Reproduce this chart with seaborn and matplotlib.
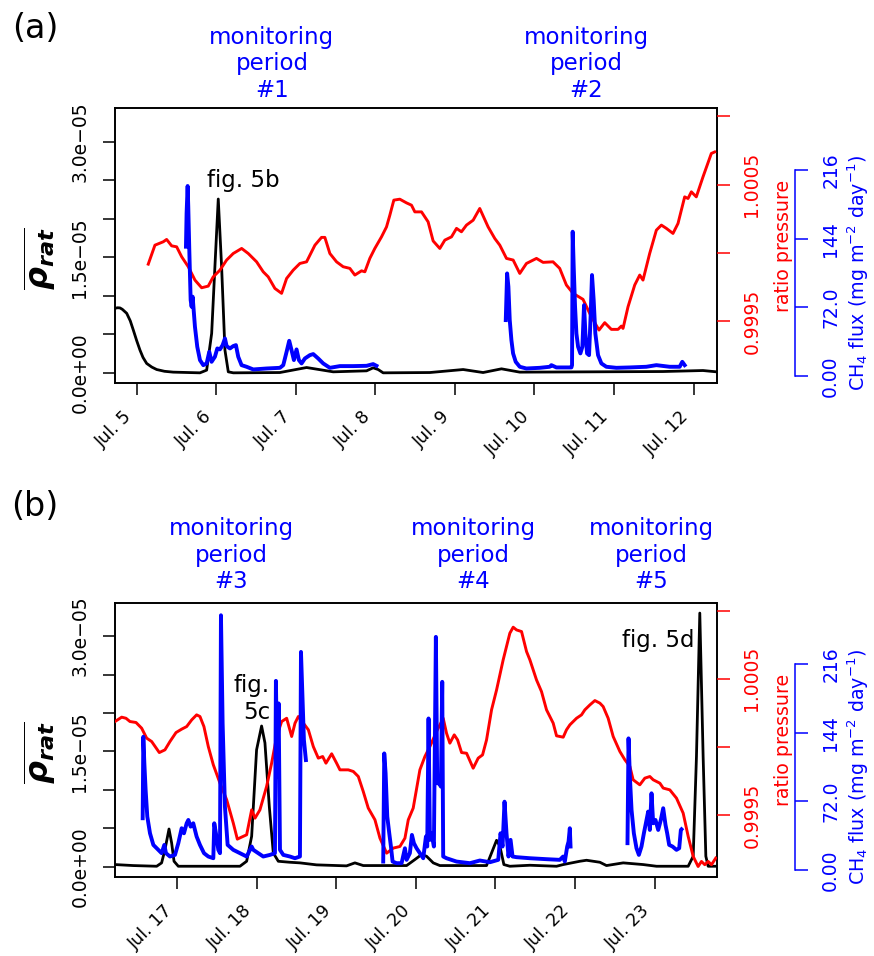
import numpy as np
import pandas as pd
import matplotlib
matplotlib.use("Agg")
import matplotlib.pyplot as plt
import matplotlib.transforms as mtransforms
import seaborn as sns

plt.rcParams["font.family"] = ["DejaVu Sans"]
plt.rcParams["mathtext.fontset"] = "dejavusans"

# ---------------------------------------------------------------- panel (a)
# time axis is "day of July"
a_rho_day = [4.728, 4.760, 4.790, 4.820, 4.875, 4.920, 4.958, 5.000, 5.042, 5.080,
             5.126, 5.190, 5.252, 5.350, 5.460, 5.796, 5.880, 5.943, 5.984, 6.026,
             6.068, 6.110, 6.152, 6.215, 6.801, 7.136, 7.471, 7.890, 7.973, 8.036,
             8.099, 8.686, 9.104, 9.355, 9.586, 9.816, 11.616, 12.119, 12.289]
# rho_rat in units of 1e-5
a_rho_val = [0.838, 0.845, 0.843, 0.825, 0.773, 0.675, 0.556, 0.420, 0.295, 0.200,
             0.122, 0.075, 0.043, 0.020, 0.009, 0.0, 0.035, 0.512, 1.38, 2.257,
             1.38, 0.295, 0.013, 0.0, 0.004, 0.069, 0.013, 0.026, 0.065, 0.043,
             0.0, 0.004, 0.043, 0.004, 0.052, 0.009, 0.017, 0.030, 0.013]

a_ratio_day = [5.146, 5.230, 5.335, 5.377, 5.440, 5.503, 5.566, 5.649, 5.733, 5.817,
               5.900, 5.963, 6.047, 6.131, 6.214, 6.320, 6.403, 6.508, 6.591, 6.654,
               6.738, 6.822, 6.885, 6.968, 7.052, 7.136, 7.241, 7.324, 7.366, 7.429,
               7.513, 7.596, 7.680, 7.743, 7.827, 7.869, 7.931, 7.994, 8.078, 8.141,
               8.183, 8.233, 8.308, 8.392, 8.455, 8.497, 8.581, 8.664, 8.727, 8.811,
               8.874, 8.958, 9.021, 9.083, 9.146, 9.230, 9.313, 9.418, 9.502, 9.565,
               9.649, 9.733, 9.816, 9.900, 10.026, 10.109, 10.234, 10.318, 10.402, 10.486,
               10.611, 10.716, 10.812, 10.884, 10.967, 11.051, 11.093, 11.114, 11.177, 11.261,
               11.324, 11.365, 11.449, 11.533, 11.596, 11.659, 11.742, 11.805, 11.889, 11.931,
               11.973, 12.035, 12.119, 12.224, 12.266]
a_ratio_val = [0.999917, 1.000056, 1.000081, 1.000098, 1.000051, 1.000044, 0.999971, 0.999898, 0.999800, 0.999744,
               0.999756, 0.999824, 0.999873, 0.999947, 0.999995, 1.000032, 0.999995, 0.999934, 0.999861, 0.999824,
               0.999739, 0.999703, 0.999812, 0.999873, 0.999922, 0.999934, 1.000056, 1.000113, 1.000113, 0.999995,
               0.999934, 0.999898, 0.999886, 0.999837, 0.999868, 0.999861, 0.999959, 1.000032, 1.000117, 1.000190,
               1.000276, 1.000386, 1.000393, 1.000366, 1.000349, 1.000300, 1.000300, 1.000227, 1.000087, 1.000032,
               1.000093, 1.000117, 1.000179, 1.000154, 1.000203, 1.000239, 1.000325, 1.000190, 1.000105, 1.000056,
               0.999959, 0.999947, 0.999849, 0.999922, 0.999959, 0.999930, 0.999934, 0.999886, 0.999764, 0.999703,
               0.999659, 0.999531, 0.999434, 0.999488, 0.999439, 0.999439, 0.999463, 0.999446, 0.999605, 0.999764,
               0.999837, 0.999800, 0.999995, 1.000166, 1.000203, 1.000179, 1.000142, 1.000215, 1.000410, 1.000398,
               1.000447, 1.000410, 1.000556, 1.000728, 1.000739]

# CH4 flux, mg m-2 day-1 (monitoring periods #1 and #2)
a_flux1_day = [5.620, 5.628, 5.641, 5.649, 5.662, 5.679, 5.691, 5.704, 5.733, 5.762,
               5.796, 5.838, 5.880, 5.913, 5.942, 5.984, 6.014, 6.047, 6.081, 6.110,
               6.131, 6.173, 6.215, 6.248, 6.277, 6.319, 6.382, 6.466, 6.633, 6.801,
               6.843, 6.885, 6.918, 6.947, 6.977, 7.010, 7.040, 7.073, 7.115, 7.178,
               7.220, 7.282, 7.345, 7.429, 7.555, 7.722, 7.890, 7.973, 8.015]
a_flux1_val = [135.6, 170.6, 199.2, 177.5, 132.1, 79.7, 72.7, 83.2, 51.7, 30.8,
               16.8, 11.5, 13.3, 25.5, 15.0, 20.3, 29.0, 28.0, 32.5, 39.5,
               31.5, 29.0, 31.5, 32.5, 20.3, 11.5, 9.8, 7.0, 8.0, 8.7,
               11.5, 25.5, 37.0, 27.3, 16.8, 28.0, 16.8, 13.3, 18.5, 22.0,
               23.1, 18.5, 13.3, 8.7, 10.5, 10.5, 10.8, 12.6, 10.8]
a_flux2_day = [9.640, 9.657, 9.673, 9.690, 9.711, 9.732, 9.765, 9.816, 9.899, 10.067,
               10.193, 10.213, 10.276, 10.465, 10.473, 10.481, 10.494, 10.511, 10.528, 10.549,
               10.578, 10.603, 10.624, 10.641, 10.662, 10.687, 10.708, 10.724, 10.745, 10.766,
               10.800, 10.842, 10.904, 11.030, 11.198, 11.407, 11.533, 11.700, 11.826, 11.859,
               11.889]
a_flux2_val = [58.7, 107.6, 93.7, 58.7, 37.7, 23.8, 15.0, 9.8, 8.0, 8.7,
               9.8, 11.5, 9.1, 9.1, 11.5, 151.3, 114.6, 72.7, 44.7, 30.8,
               23.8, 30.8, 74.4, 44.7, 23.8, 22.0, 65.7, 105.9, 79.7, 44.7,
               22.0, 13.3, 9.8, 8.7, 9.1, 9.8, 11.5, 9.8, 9.8, 15.0,
               11.5]

a_tick_days = [5, 6, 7, 8, 9, 10, 11, 12]
a_tick_labels = ["Jul. 5", "Jul. 6", "Jul. 7", "Jul. 8", "Jul. 9", "Jul. 10", "Jul. 11", "Jul. 12"]

# ---------------------------------------------------------------- panel (b)
b_rho_day = [16.217, 16.447, 16.741, 16.803, 16.845, 16.896, 16.929, 16.959, 17.013, 17.788,
             17.872, 17.935, 17.997, 18.060, 18.102, 18.157, 18.207, 18.270, 18.416, 18.542,
             18.751, 19.128, 19.233, 19.338, 19.883, 19.987, 20.071, 20.134, 20.218, 20.301,
             20.888, 20.951, 21.014, 21.056, 21.106, 21.181, 21.433, 21.768, 21.852, 22.061,
             22.145, 22.313, 22.396, 22.606, 22.857, 23.025, 23.423, 23.486, 23.527, 23.569,
             23.611, 23.645, 23.674, 23.779]
b_rho_val = [0.026, 0.013, 0.004, 0.048, 0.220, 0.489, 0.307, 0.069, 0.004, 0.004,
             0.069, 0.394, 1.52, 1.83, 1.61, 0.78, 0.177, 0.069, 0.056, 0.048,
             0.022, 0.009, 0.048, 0.013, 0.013, 0.091, 0.156, 0.134, 0.048, 0.013,
             0.013, 0.177, 0.342, 0.264, 0.026, 0.004, 0.017, 0.004, 0.026, 0.069,
             0.082, 0.056, 0.013, 0.048, 0.026, 0.004, 0.004, 0.134, 1.43, 3.30,
             1.43, 0.134, 0.004, 0.004]

b_ratio_day = [16.217, 16.301, 16.355, 16.405, 16.481, 16.552, 16.615, 16.678, 16.774, 16.845,
               16.908, 16.984, 17.055, 17.118, 17.181, 17.243, 17.285, 17.335, 17.390, 17.453,
               17.537, 17.621, 17.704, 17.755, 17.809, 17.872, 17.935, 17.977, 18.039, 18.123,
               18.186, 18.249, 18.312, 18.375, 18.438, 18.480, 18.522, 18.585, 18.648, 18.710,
               18.773, 18.828, 18.869, 18.941, 19.003, 19.045, 19.150, 19.213, 19.276, 19.338,
               19.401, 19.485, 19.548, 19.632, 19.715, 19.799, 19.862, 19.904, 19.966, 20.050,
               20.113, 20.176, 20.260, 20.343, 20.385, 20.427, 20.482, 20.524, 20.574, 20.637,
               20.720, 20.783, 20.838, 20.888, 20.951, 21.014, 21.097, 21.181, 21.223, 21.265,
               21.328, 21.391, 21.433, 21.516, 21.579, 21.642, 21.726, 21.768, 21.852, 21.893,
               21.936, 22.019, 22.082, 22.124, 22.187, 22.250, 22.313, 22.354, 22.417, 22.480,
               22.564, 22.627, 22.690, 22.731, 22.815, 22.878, 22.941, 22.983, 23.067, 23.109,
               23.192, 23.276, 23.360, 23.423, 23.486, 23.548, 23.590, 23.632, 23.674, 23.716,
               23.770]
b_ratio_val = [1.000186, 1.000218, 1.000210, 1.000186, 1.000179, 1.000137, 1.000064, 1.000039, 0.999958, 0.999978,
               1.000039, 1.000105, 1.000130, 1.000149, 1.000198, 1.000235, 1.000223, 1.000149, 1.000002, 0.999868,
               0.999733, 0.999611, 0.999440, 0.999322, 0.999337, 0.999354, 0.999537, 0.999476, 0.999537, 0.999709,
               0.999880, 1.000076, 1.000186, 1.000210, 1.000076, 1.000174, 1.000223, 1.000174, 1.000125, 1.000002,
               0.999917, 0.999929, 0.999880, 0.999949, 0.999880, 0.999831, 0.999831, 0.999819, 0.999782, 0.999672,
               0.999550, 0.999464, 0.999329, 0.999219, 0.999256, 0.999268, 0.999329, 0.999464, 0.999550, 0.999831,
               0.999929, 1.000002, 1.000113, 1.000210, 1.000100, 1.000027, 1.000088, 1.000051, 0.999958, 0.999953,
               0.999843, 0.999917, 0.999941, 1.000051, 1.000272, 1.000418, 1.000639, 1.000835, 1.000879, 1.000859,
               1.000847, 1.000700, 1.000639, 1.000492, 1.000406, 1.000272, 1.000174, 1.000081, 1.000071, 1.000125,
               1.000162, 1.000210, 1.000235, 1.000272, 1.000308, 1.000340, 1.000321, 1.000296, 1.000210, 1.000076,
               0.999966, 0.999905, 0.999856, 0.999758, 0.999721, 0.999770, 0.999782, 0.999758, 0.999733, 0.999697,
               0.999684, 0.999623, 0.999513, 0.999342, 0.999195, 0.999121, 0.999158, 0.999134, 0.999158, 0.999134,
               0.999183]

# CH4 flux, mg m-2 day-1 (monitoring periods #3, #4 and #5)
b_flux1_day = [16.565, 16.573, 16.586, 16.602, 16.623, 16.657, 16.699, 16.741, 16.803, 16.837,
               16.858, 16.908, 16.971, 17.013, 17.055, 17.084, 17.118, 17.139, 17.168, 17.201,
               17.243, 17.285, 17.336, 17.390, 17.453, 17.465, 17.486, 17.516, 17.537, 17.549,
               17.570, 17.599, 17.633, 17.704, 17.788, 17.872, 17.935, 17.956, 18.018, 18.081,
               18.165, 18.228, 18.240, 18.257, 18.274, 18.291, 18.333, 18.416, 18.479, 18.542,
               18.555, 18.571, 18.592, 18.617]
b_flux1_val = [54.2, 139.8, 111.8, 83.9, 55.9, 38.4, 26.2, 22.7, 17.5, 26.2,
               17.5, 14.0, 15.7, 28.0, 43.7, 38.4, 48.9, 52.4, 45.4, 48.9,
               35.0, 26.2, 17.5, 14.0, 12.2, 48.9, 38.4, 21.0, 17.5, 267.4,
               153.8, 66.4, 26.2, 21.0, 17.5, 14.0, 24.5, 21.0, 17.5, 14.0,
               15.7, 17.5, 198.5, 97.9, 174.8, 21.0, 15.7, 14.0, 12.2, 14.0,
               228.9, 188.7, 136.3, 115.3]
b_flux2_day = [19.589, 19.602, 19.619, 19.640, 19.665, 19.686, 19.707, 19.757, 19.820, 19.862,
               19.883, 19.924, 19.950, 19.975, 20.008, 20.050, 20.092, 20.126, 20.142, 20.159,
               20.176, 20.197, 20.226, 20.251, 20.268, 20.293, 20.314, 20.331, 20.343, 20.385,
               20.511, 20.679, 20.804, 20.930, 21.035, 21.064, 21.089, 21.114, 21.139, 21.164,
               21.190, 21.215, 21.265, 21.433, 21.642, 21.809, 21.851, 21.872, 21.902, 21.919,
               21.935, 21.944]
b_flux2_val = [8.7, 122.3, 101.4, 55.9, 38.4, 24.5, 8.7, 7.0, 7.0, 22.7,
               10.5, 17.5, 36.7, 28.0, 22.7, 17.5, 12.2, 35.0, 24.5, 159.0,
               31.5, 38.4, 24.5, 244.7, 90.9, 90.9, 87.4, 197.5, 14.0, 12.2,
               8.7, 7.0, 9.8, 8.0, 10.5, 38.4, 24.5, 71.6, 38.4, 14.0,
               31.5, 14.0, 13.3, 12.2, 11.2, 10.5, 14.0, 8.7, 24.5, 29.7,
               43.7, 24.5]
b_flux3_day = [22.660, 22.673, 22.690, 22.711, 22.740, 22.773, 22.803, 22.836, 22.866, 22.891,
               22.920, 22.941, 22.962, 22.983, 23.012, 23.046, 23.079, 23.109, 23.138, 23.159,
               23.184, 23.226, 23.276, 23.310, 23.331, 23.339]
b_flux3_val = [28.0, 138.1, 97.9, 62.9, 38.4, 22.7, 15.7, 24.5, 38.4, 48.9,
               61.2, 41.9, 80.4, 48.9, 52.4, 41.9, 52.4, 64.7, 47.2, 38.4,
               26.2, 24.5, 21.0, 22.7, 41.9, 42.6]

b_tick_days = [17, 18, 19, 20, 21, 22, 23]
b_tick_labels = ["Jul. 17", "Jul. 18", "Jul. 19", "Jul. 20", "Jul. 21", "Jul. 22", "Jul. 23"]

rho_ticks = [0, 0.5e-5, 1.0e-5, 1.5e-5, 2.0e-5, 2.5e-5, 3.0e-5]
rho_tick_labels = ["0.0e+00", "", "", "1.5e\u221205", "", "", "3.0e\u221205"]
ratio_ticks = [0.9995, 1.0000, 1.0005, 1.0010]
ratio_tick_labels = ["0.9995", "", "1.0005", ""]
flux_ticks = [0, 72, 144, 216]
flux_tick_labels = ["0.00", "72.0", "144", "216"]

RED = "#ff0000"
BLUE = "#0000ff"
W, H = 874, 956

fig = plt.figure(figsize=(W / 100, H / 100), dpi=100)


def fx(px):
    return px / W


def fy(py):
    return 1 - py / H


def panel(rect, xlim, rho_day, rho_val, ratio_day, ratio_val, flux_segs,
          tick_days, tick_labels):
    ax = fig.add_axes(rect)
    rho_df = pd.DataFrame({"day": rho_day, "rho": np.array(rho_val) * 1e-5})
    sns.lineplot(data=rho_df, x="day", y="rho", color="black", lw=2.0,
                 estimator=None, sort=False, ax=ax)
    ax.set_xlim(*xlim)
    ax.set_ylim(-1.32e-6, 3.435e-5)
    ax.set_xlabel("")
    ax.set_ylabel("")
    for s in ax.spines.values():
        s.set_linewidth(1.4)
        s.set_color("black")
    ax.set_yticks(rho_ticks)
    ax.set_yticklabels(rho_tick_labels)
    ax.tick_params(axis="y", length=8.9, width=1.1, pad=9.5, labelsize=13.5,
                   labelrotation=90)
    for lab in ax.get_yticklabels():
        lab.set_va("center")
    ax.set_xticks(tick_days)
    ax.set_xticklabels(tick_labels)
    ax.tick_params(axis="x", length=8.6, width=1.1, pad=14.0, labelsize=12.6)
    shift = mtransforms.ScaledTranslation(-0.075, 0, fig.dpi_scale_trans)
    for lab in ax.get_xticklabels():
        lab.set_rotation(45)
        lab.set_ha("right")
        lab.set_va("center")
        lab.set_rotation_mode("anchor")
        lab.set_transform(lab.get_transform() + shift)

    # ratio pressure on its own scale
    axr = ax.twinx()
    ratio_df = pd.DataFrame({"day": ratio_day, "ratio": ratio_val})
    sns.lineplot(data=ratio_df, x="day", y="ratio", color=RED, lw=2.1,
                 estimator=None, sort=False, ax=axr)
    axr.set_ylim(0.999046, 1.001059)
    axr.set_ylabel("")
    for s in axr.spines.values():
        s.set_visible(False)
    axr.set_yticks(ratio_ticks)
    axr.set_yticklabels(ratio_tick_labels)
    axr.tick_params(axis="y", colors=RED, length=9.2, width=1.1, pad=9.5,
                    labelsize=13.5, labelrotation=90)
    for lab in axr.get_yticklabels():
        lab.set_va("center")

    # CH4 flux on an offset scale
    axb = ax.twinx()
    rows = []
    for k, (d, v) in enumerate(flux_segs):
        rows.append(pd.DataFrame({"day": d, "flux": v, "period": k}))
    flux_df = pd.concat(rows, ignore_index=True)
    sns.lineplot(data=flux_df, x="day", y="flux", units="period", color=BLUE,
                 lw=2.8, estimator=None, sort=False, ax=axb)
    axb.set_ylim(-7.2, 280.6)
    axb.set_ylabel("")
    for name, s in axb.spines.items():
        if name != "right":
            s.set_visible(False)
    axb.spines["right"].set_position(("axes", 1.1305))
    axb.spines["right"].set_bounds(0, 216)
    axb.spines["right"].set_color(BLUE)
    axb.spines["right"].set_linewidth(1.1)
    axb.set_yticks(flux_ticks)
    axb.set_yticklabels(flux_tick_labels)
    axb.tick_params(axis="y", colors=BLUE, length=9.4, width=1.1, pad=9.5,
                    labelsize=13.5, labelrotation=90)
    for lab in axb.get_yticklabels():
        lab.set_va("center")
    return ax


# panel (a)
ax_a = panel([fx(115), fy(383), fx(716.5 - 115), (383 - 108.3) / H], (4.728, 12.289),
             a_rho_day, a_rho_val, a_ratio_day, a_ratio_val,
             [(a_flux1_day, a_flux1_val), (a_flux2_day, a_flux2_val)],
             a_tick_days, a_tick_labels)
# panel (b)
ax_b = panel([fx(115), fy(876.7), fx(716.5 - 115), (876.7 - 602.7) / H], (16.217, 23.779),
             b_rho_day, b_rho_val, b_ratio_day, b_ratio_val,
             [(b_flux1_day, b_flux1_val), (b_flux2_day, b_flux2_val),
              (b_flux3_day, b_flux3_val)],
             b_tick_days, b_tick_labels)

# event labels (baseline refers to the last line of a multi-line label)
ax_a.text(6.340, 2.414e-5, "fig. 5b", ha="center", va="baseline", fontsize=16.5)
ax_b.text(18.165, 1.922e-5, "fig.\n5c", ha="right", va="baseline",
          multialignment="right", fontsize=16.5)
ax_b.text(23.051, 2.861e-5, "fig. 5d", ha="center", va="baseline", fontsize=16.5)

# monitoring periods
for ax, xs, names, yb in [(ax_a, [6.700, 10.654], ["#1", "#2"], 1.0422),
                          (ax_b, [17.679, 20.720, 22.963], ["#3", "#4", "#5"], 1.0526)]:
    tr = mtransforms.blended_transform_factory(ax.transData, ax.transAxes)
    for x, n in zip(xs, names):
        ax.text(x, yb, "monitoring\nperiod\n" + n, transform=tr, ha="center",
                va="baseline", multialignment="center", color=BLUE,
                fontsize=16.5, clip_on=False)

# panel letters
fig.text(fx(35), fy(29), "(a)", ha="center", va="center", fontsize=24)
fig.text(fx(35), fy(506), "(b)", ha="center", va="center", fontsize=24)

# axis titles
rho_label = r"$\overline{\boldsymbol{\rho}_{\mathbfit{rat}}}$"
for yc, yr, yf in [(259, 245.8, 273), (752.5, 739.7, 767)]:
    fig.text(fx(40), fy(yc), rho_label, rotation=90, ha="center", va="center",
             fontsize=23)
    fig.text(fx(783.7), fy(yr), "ratio pressure", rotation=90, ha="center",
             va="center", color=RED, fontsize=13.7)
    fig.text(fx(858.3), fy(yf), r"CH$_4$ flux (mg m$^{-2}$ day$^{-1}$)",
             rotation=90, ha="center", va="center", color=BLUE, fontsize=13.7)

fig.savefig("out.png", dpi=100)
